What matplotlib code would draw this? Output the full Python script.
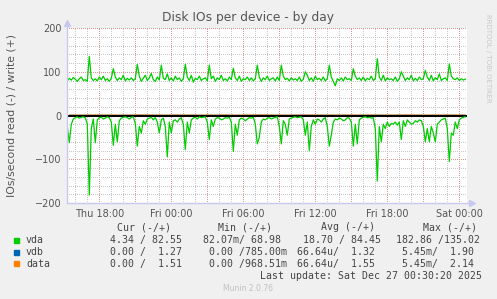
import pandas as pd
import matplotlib
matplotlib.use("Agg")
import matplotlib.pyplot as plt
import matplotlib.dates as mdates
from matplotlib.ticker import MultipleLocator, FuncFormatter

# 10-minute samples, Thu Dec 25 15:20 -> Sat Dec 27 00:30
times = pd.date_range("2025-12-25 15:20", periods=200, freq="10min")

# vda writes (plotted upward)
vda_write = [
    79, 85, 81, 87, 83, 78, 84, 88, 80, 82, 78, 135,
    86, 80, 84, 79, 88, 82, 90, 80, 84, 78, 85, 107,
    88, 80, 86, 82, 92, 79, 85, 81, 86, 80, 84, 117,
    90, 78, 85, 92, 80, 86, 96, 82, 78, 88, 81, 115,
    85, 82, 95, 80, 86, 79, 90, 82, 86, 78, 84, 117,
    88, 80, 92, 76, 85, 82, 90, 80, 84, 86, 79, 115,
    84, 90, 78, 86, 82, 92, 80, 84, 79, 88, 82, 108,
    86, 80, 90, 78, 84, 82, 88, 80, 86, 79, 84, 115,
    88, 78, 86, 82, 90, 80, 84, 86, 79, 88, 80, 115,
    90, 82, 85, 79, 86, 81, 84, 80, 88, 78, 83, 100,
    92, 80, 86, 78, 90, 82, 85, 80, 88, 79, 84, 115,
    88, 78, 68, 84, 80, 86, 79, 88, 82, 84, 80, 107,
    90, 82, 86, 80, 88, 79, 85, 82, 90, 80, 84, 130,
    88, 80, 92, 79, 86, 82, 84, 80, 88, 78, 84, 100,
    90, 80, 86, 82, 92, 79, 85, 80, 88, 82, 84, 103,
    88, 80, 92, 79, 86, 82, 95, 80, 84, 86, 80, 118,
    90, 84, 82, 86, 80, 84, 81, 83,
]

# vda reads (plotted downward)
vda_read = [
    25, 62, 20, 8, 5, 3, 6, 4, 3, 5, 20, 182,
    30, 8, 62, 10, 5, 4, 8, 6, 3, 5, 15, 68,
    20, 60, 12, 6, 4, 3, 5, 8, 4, 3, 18, 70,
    25, 40, 12, 20, 8, 6, 4, 10, 5, 15, 40, 10,
    6, 25, 95, 15, 40, 12, 10, 15, 8, 5, 20, 78,
    15, 40, 10, 6, 4, 8, 3, 5, 4, 3, 15, 55,
    10, 25, 8, 5, 6, 10, 8, 5, 6, 4, 15, 82,
    20, 45, 10, 6, 8, 12, 8, 5, 6, 4, 20, 65,
    50, 15, 8, 10, 6, 5, 8, 6, 4, 3, 25, 65,
    12, 20, 45, 8, 6, 4, 3, 5, 4, 3, 10, 45,
    15, 80, 25, 10, 20, 8, 10, 15, 8, 5, 25, 70,
    45, 15, 8, 10, 6, 8, 12, 10, 5, 6, 15, 70,
    20, 65, 10, 6, 4, 3, 5, 4, 6, 5, 30, 150,
    25, 60, 20, 30, 15, 25, 18, 20, 15, 22, 15, 55,
    12, 25, 10, 15, 20, 18, 12, 15, 10, 12, 25, 60,
    30, 60, 25, 40, 60, 20, 15, 10, 8, 6, 30, 105,
    40, 45, 15, 30, 10, 6, 4, 3,
]

# vdb / data are almost idle, hourly values are enough
hours = pd.date_range("2025-12-25 15:30", periods=34, freq="1h")
vdb_write = [1.3, 1.2, 1.4, 1.3, 1.2, 1.3, 1.5, 1.3, 1.2, 1.4, 1.3, 1.2,
             1.3, 1.4, 1.2, 1.3, 1.5, 1.3, 1.2, 1.3, 1.4, 1.2, 1.3, 1.3,
             1.2, 1.4, 1.3, 1.2, 1.5, 1.3, 1.2, 1.3, 1.4, 1.3]
vdb_read = [0.0] * 34
data_write = [1.5, 1.4, 1.6, 1.5, 1.4, 1.5, 1.7, 1.5, 1.4, 1.6, 1.5, 1.4,
              1.5, 1.6, 1.4, 1.5, 1.8, 1.5, 1.4, 1.5, 1.6, 1.4, 1.5, 1.5,
              1.4, 1.6, 1.5, 1.4, 1.7, 1.5, 1.4, 1.5, 1.6, 1.5]
data_read = [0.0] * 34

legend_names = ["vda", "vdb", "data"]
legend_colors = ["#00CC00", "#0066B3", "#FF8000"]
cur_vals = ["  4.34 / 82.55 ", "  0.00 /  1.27 ", "  0.00 /  1.51 "]
min_vals = ["82.07m/ 68.98 ", " 0.00 /785.00m", " 0.00 /968.51m"]
avg_vals = [" 18.70 / 84.45 ", "66.64u/  1.32 ", "66.64u/  1.55 "]
max_vals = ["182.86 /135.02 ", " 5.45m/  1.90 ", " 5.45m/  2.14 "]

W, H = 497, 299
fig = plt.figure(figsize=(W / 100, H / 100), dpi=100, facecolor="#F0F0F0")
ax = fig.add_axes([67 / W, (H - 203) / H, 400 / W, 175 / H])
ax.set_facecolor("white")

t0 = pd.Timestamp("2025-12-25 15:18:30")
t1 = t0 + pd.Timedelta(hours=100 / 3)
ax.set_xlim(t0, t1)
ax.set_ylim(-200, 200)

# grid
ax.xaxis.set_major_locator(mdates.HourLocator(byhour=range(0, 24, 3)))
ax.xaxis.set_minor_locator(mdates.HourLocator())
ax.xaxis.set_major_formatter(FuncFormatter(
    lambda v, p: mdates.num2date(v).strftime("%a %H:%M")
    if mdates.num2date(v).hour % 6 == 0 else ""))
ax.yaxis.set_major_locator(MultipleLocator(100))
ax.yaxis.set_minor_locator(MultipleLocator(20))
ax.grid(which="minor", color="#c8c8c8", linestyle=(0, (1, 2)), linewidth=0.72,
        antialiased=False)
ax.grid(which="major", color="#e09595", linestyle=(0, (1, 2)), linewidth=0.72,
        antialiased=False)
ax.set_axisbelow(True)

for s in ax.spines.values():
    s.set_visible(False)
ax.tick_params(which="both", length=0, labelsize=7, colors="#555555", pad=4)

# series
ax.plot(hours, vdb_write, color="#0066B3", lw=0.4, zorder=2)
ax.plot(hours, [-v for v in vdb_read], color="#0066B3", lw=0.4, zorder=2)
ax.plot(hours, data_write, color="#FF8000", lw=0.4, zorder=2)
ax.plot(hours, [-v for v in data_read], color="#FF8000", lw=0.4, zorder=2)
ax.axhline(0, color="black", lw=1.44, antialiased=False, zorder=3)
ax.plot(times, vda_write, color="#00CC00", lw=0.9, zorder=4)
ax.plot(times, [-v for v in vda_read], color="#00CC00", lw=0.9, zorder=4)

# axis lines with arrows
axc = "#c8c8f0"
ax.plot([0, 0], [0, 1.02], color=axc, lw=1, transform=ax.transAxes, clip_on=False, zorder=5)
ax.plot([0, 1.008], [0, 0], color=axc, lw=1, transform=ax.transAxes, clip_on=False, zorder=5)
ax.plot([0], [1.03], marker="^", ms=4, color=axc, transform=ax.transAxes, clip_on=False)
ax.plot([1.012], [0], marker=">", ms=4, color=axc, transform=ax.transAxes, clip_on=False)

ax.set_ylabel("IOs/second read (-) / write (+)", fontsize=7.8, color="#555555")
ax.yaxis.set_label_coords(-50 / 400, 0.5)

def px(x, y):
    return x / W, 1 - y / H

fig.text(*px(248, 18), "Disk IOs per device - by day", fontsize=8.8,
         color="#555555", ha="center", va="center")
fig.text(*px(488, 58), "RRDTOOL / TOBI OETIKER", fontsize=5, color="#c8c8c8",
         rotation=270, ha="center", va="center")

mono = "DejaVu Sans Mono"
fs = 7.1
tc = "#444444"
for x, lab in zip([116.7, 218, 321, 423], ["Cur (-/+)", "Min (-/+)", "Avg (-/+)", "Max (-/+)"]):
    fig.text(*px(x, 227.5), lab, family=mono, fontsize=fs, color=tc, va="center")
rows_y = [240, 252, 263.7]
for i, name in enumerate(legend_names):
    y = rows_y[i]
    fig.patches.append(plt.Rectangle(px(14, y + 2.5), 5 / W, 5 / H,
                                     transform=fig.transFigure, color=legend_colors[i]))
    fig.text(*px(26, y), name, family=mono, fontsize=fs, color=tc, va="center")
    fig.text(*px(98, y), cur_vals[i], family=mono, fontsize=fs, color=tc, va="center")
    fig.text(*px(203.3, y), min_vals[i], family=mono, fontsize=fs, color=tc, va="center")
    fig.text(*px(297, y), avg_vals[i], family=mono, fontsize=fs, color=tc, va="center")
    fig.text(*px(396, y), max_vals[i], family=mono, fontsize=fs, color=tc, va="center")
fig.text(*px(482.5, 275.7), "Last update: Sat Dec 27 00:30:20 2025", family=mono,
         fontsize=fs, color=tc, ha="right", va="center")
fig.text(*px(248, 288.3), "Munin 2.0.76", fontsize=5.5, color="#c0c0c0",
         ha="center", va="center")

fig.savefig("out.png", dpi=100, facecolor=fig.get_facecolor())
